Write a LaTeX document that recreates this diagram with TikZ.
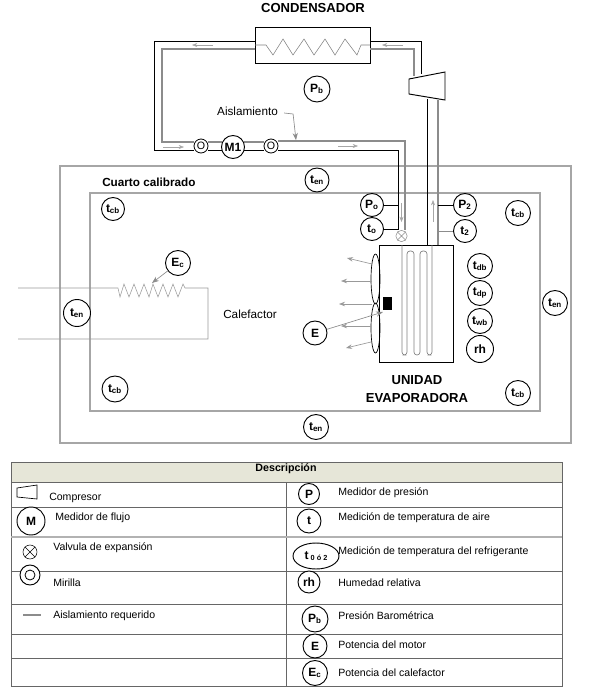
\documentclass[tikz,border=0pt]{standalone}
\usepackage{fontspec}
\setmainfont{Liberation Sans}
\usepackage{tikz}
\usetikzlibrary{arrows.meta, positioning, calc, shapes.geometric}
\definecolor{PipeGray}{HTML}{8C8C8C}
\definecolor{WallGray}{HTML}{A6A6A6}
\definecolor{HeadBeige}{HTML}{E6E6D8}
\tikzset{
  instr/.style={circle, draw, fill=white, inner sep=0pt, line width=0.7pt,
    minimum size=#1*0.75pt, font=\fontsize{9}{10}\selectfont\bfseries},
  sight/.style={circle, draw, fill=white, inner sep=0pt, line width=0.6pt,
    minimum size=10.5pt, font=\fontsize{8}{9}\selectfont},
  valve/.style={circle, draw=#1, fill=white, inner sep=0pt, minimum size=8.5pt},
  pipe/.style={line width=0.7pt},
  lagged/.style={line width=1.5pt, PipeGray},
  wall/.style={line width=1.4pt, WallGray},
  flow/.style={-{Stealth[length=4pt]}, line width=0.35pt, gray!70},
  airflow/.style={-{Stealth[length=4.5pt]}, line width=0.5pt, gray!80},
  lbl/.style={inner sep=0pt, font=\fontsize{8.8}{10}\selectfont},
  head/.style={inner sep=0pt, font=\fontsize{9.8}{12}\selectfont\bfseries},
  legend/.style={right, inner sep=0pt, yshift=-0.6pt, font=\fontsize{7.9}{9}\selectfont},
}
\begin{document}
\begin{tikzpicture}[x=0.75pt, y=-0.75pt, >=Stealth]
  \useasboundingbox (0,0) rectangle (590,693);
  % Rooms
  \draw[wall] (60,166) rectangle (571,443);
  \draw[wall] (90,193) rectangle (540,411);
  % Heater
  \draw[line width=0.4pt, gray!80] (18,288) -- (118,288) -- (120,297) -- (124,284) -- (129,297) -- (134,284)
    -- (139,297) -- (144,284) -- (149,297) -- (153,284) -- (158,297) -- (163,284) -- (168,297) -- (173,284)
    -- (178,297) -- (183,284) -- (185,288) -- (208,288) -- (208,339) -- (18,339);
  \coordinate (hot) at (152,283);
  % Condenser
  \node[draw, line width=0.7pt, minimum width=86.2pt, minimum height=27pt, inner sep=0pt] (cond) at (312.5,45) {};
  \draw[line width=0.4pt, gray] (255,45) -- (266,45) -- (273,55) -- (283,39) -- (293,55) -- (304,39) -- (314,55)
    -- (325,39) -- (335,55) -- (345,39) -- (357,55) -- (361,45) -- (370,45);
  \node[head] (condlabel) at (313,8) {CONDENSADOR};
  % Compressor
  \draw[line width=0.7pt] (409,79) coordinate (cp1) -- (445,72) -- (445,100) -- (409,94) -- cycle;
  % Pipes
  \draw[pipe] (255,41.5) -- (154,41.5) -- (154,150) -- (194,150);
  \draw[lagged] (255,48.5) -- (162,48.5) -- (162,142) -- (194,142);
  \draw[pipe] (370,41.5) -- (421,41.5) -- (421,74);
  \draw[lagged] (370,48.5) -- (414,48.5) -- (414,76);
  \draw[pipe] (208,150) -- (222,150);
  \draw[lagged] (208,142) -- (222,142);
  \draw[pipe] (244,150) -- (264,150);
  \draw[lagged] (244,142) -- (264,142);
  \draw[pipe] (278,150.5) -- (398,150.5) -- (398,230);
  \draw[lagged] (278,140.5) -- (405,140.5) -- (405,230);
  \draw[pipe] (427,99) -- (427,245);
  \draw[lagged] (438,100) -- (438,245);
  % Flow arrows
  \draw[flow] (213,45) -- (192,45);
  \draw[flow] (403,45) -- (382,45);
  \draw[flow] (163,147) -- (184,147);
  \draw[flow] (338,146) -- (358,146);
  \draw[flow] (401.5,203) -- (401.5,222);
  \draw[flow] (433,222) -- (433,200);
  % Evaporator
  \node[draw, line width=0.7pt, minimum width=55.5pt, minimum height=87.75pt, inner sep=0pt] (evap) at (416,303.5) {};
  \draw[line width=0.5pt, gray, rounded corners=2.2pt] (402,245) -- (402,355) -- (407,355) -- (407,251) -- (414,251)
    -- (414,355) -- (420,355) -- (420,251) -- (427,251) -- (427,355) -- (432,355) -- (432,245);
  \draw[line width=0.5pt] (375.5,279) ellipse (4.5 and 25);
  \draw[line width=0.5pt] (375.5,328) ellipse (4.5 and 25);
  \fill (383,297) rectangle (392,310);
  \coordinate (motor) at (383,312);
  \node[head] (evaplabel) [align=center] at (417,389.5) {UNIDAD\\[1.5pt]EVAPORADORA};
  % Air leaving the fan
  \draw[airflow] (372,264) -- (347,258);
  \draw[airflow] (372,281) -- (341,281);
  \draw[airflow] (372,304) -- (339,304);
  \draw[airflow] (371,326) -- (341,326);
  \draw[airflow] (371,342) -- (346,348);
  % Expansion valve and sight glasses
  \node[valve=PipeGray] (valve) at (401.5,236) {};
  \draw[PipeGray, line width=0.4pt] (valve.45) -- (valve.225) (valve.135) -- (valve.315);
  \node[sight] (S1) at (201,146) {O};
  \node[sight] (S2) at (271,146) {O};
  \node[instr=23] (M1) at (233,147) {M1};
  % Instruments
  \coordinate (suction) at (398,205);
  \coordinate (valvein) at (398,229);
  \coordinate (gasout) at (438,205);
  \coordinate (gastwo) at (438,231);
  \draw[pipe] (372,205) -- (suction);
  \draw[pipe] (372,229) -- (valvein);
  \draw[pipe] (gasout) -- (465,205);
  \draw[line width=0.7pt, PipeGray] (gastwo) -- (465,231);
  \node[instr=23] (Po) at (372,205) {P\textsubscript{o}};
  \node[instr=23] (to) at (372,229) {t\textsubscript{o}};
  \node[instr=23] (P2) at (465,205) {P\textsubscript{2}};
  \node[instr=23] (t2) at (465,231) {t\textsubscript{2}};
  \node[instr=25] (tdb) at (480,266) {t\textsubscript{db}};
  \node[instr=25] (tdp) at (480,293) {t\textsubscript{dp}};
  \node[instr=25] (twb) at (480,321) {t\textsubscript{wb}};
  \node[instr=27] (rh) at (480,349) {rh};
  \node[instr=26] (Pb) at (317,89) {P\textsubscript{b}};
  \node[instr=24] (tencima) at (317,180) {t\textsubscript{en}};
  \node[instr=25] (tenbajo) at (316,427) {t\textsubscript{en}};
  \node[instr=27] (tenizq) at (77,313) {t\textsubscript{en}};
  \node[instr=25] (tender) at (555,303) {t\textsubscript{en}};
  \node[instr=23] (tcbA) at (113,209) {t\textsubscript{cb}};
  \node[instr=26] (tcbB) at (115,389) {t\textsubscript{cb}};
  \node[instr=25] (tcbC) at (518,213) {t\textsubscript{cb}};
  \node[instr=25] (tcbD) at (518,393) {t\textsubscript{cb}};
  \node[instr=25] (Ec) at (178,263) {E\textsubscript{c}};
  \node[instr=24] (E) at (315,333) {E};
  \draw[->, line width=0.5pt, PipeGray] (Ec) -- (hot);
  \draw[->, line width=0.5pt, PipeGray] (E) -- (motor);
  % Labels
  \node[lbl] (aisl) at (247.5,111) {Aislamiento};
  \coordinate (pipetop) at (296,140);
  \draw[->, line width=0.5pt, PipeGray] (aisl.east) ++(6,2) -- ++(9,1) -- (pipetop);
  \node[lbl, font=\fontsize{8.8}{10}\selectfont\bfseries, right] (cuarto) at (102,182) {Cuarto calibrado};
  \node[lbl] (calef) at (250,314) {Calefactor};
  % Legend table
  \fill[HeadBeige] (11,462) rectangle (562,482);
  \draw[line width=0.6pt, gray!80!black] (11,462) rectangle (562,686);
  \draw[line width=0.5pt, gray!80!black] (11,482) -- (562,482) (11,507) -- (562,507) (11,571) -- (562,571)
    (11,604) -- (562,604) (11,634) -- (562,634) (11,658) -- (562,658) (286,482) -- (286,686);
  \draw[line width=1pt, gray!60] (11,537) -- (562,537);
  \node[inner sep=0pt, font=\fontsize{8}{9}\selectfont\bfseries] (desc) at (286,469) {Descripción};
  % Legend, left column
  \draw[line width=0.5pt] (17,488) -- (37,485) -- (37,499) -- (17,497) -- cycle;
  \node[legend] (ltA) at (49,497) {Compresor};
  \node[instr=28, font=\fontsize{9}{10}\selectfont\bfseries] (lM) at (31,521) {M};
  \node[legend] (ltB) at (55,517) {Medidor de flujo};
  \node[valve=black, minimum size=10.5pt] (lV) at (30,552) {};
  \draw[line width=0.4pt] (lV.45) -- (lV.225) (lV.135) -- (lV.315);
  \node[legend] (ltC) at (53,547) {Valvula de expansión};
  \node[circle, draw, fill=white, line width=0.7pt, minimum size=15pt, inner sep=0pt] (lS) at (30,575) {};
  \draw[line width=0.6pt] (lS) circle (5);
  \node[legend] (ltD) at (53,582) {Mirilla};
  \draw[line width=1.5pt, PipeGray] (23,615) -- (41,615);
  \node[legend] (ltE) at (53,615) {Aislamiento requerido};
  % Legend, right column
  \node[instr=21] (rP) at (309,494) {P};
  \node[legend] (rtA) at (338,492) {Medidor de presión};
  \node[instr=24] (rt) at (309,521) {t};
  \node[legend] (rtB) at (338,517) {Medición de temperatura de aire};
  \node[ellipse, draw, fill=white, line width=0.7pt, minimum width=34.5pt, minimum height=19.5pt, inner sep=0pt,
    font=\fontsize{9}{10}\selectfont\bfseries] (rtr) at (316,556) {t\,{\fontsize{5.5}{6}\selectfont\raisebox{-1pt}{0 ó 2}}};
  \node[legend] (rtC) at (338,551) {Medición de temperatura del refrigerante};
  \node[instr=22] (rrh) at (309,582) {rh};
  \node[legend] (rtD) at (338,582) {Humedad relativa};
  \node[instr=26] (rPb) at (315,619) {P\textsubscript{b}};
  \node[legend] (rtE) at (338,615) {Presión Barométrica};
  \node[instr=24] (rE) at (315,646) {E};
  \node[legend] (rtF) at (338,644) {Potencia del motor};
  \node[instr=25] (rEc) at (315,673) {E\textsubscript{c}};
  \node[legend] (rtG) at (338,672) {Potencia del calefactor};
\end{tikzpicture}
\end{document}
